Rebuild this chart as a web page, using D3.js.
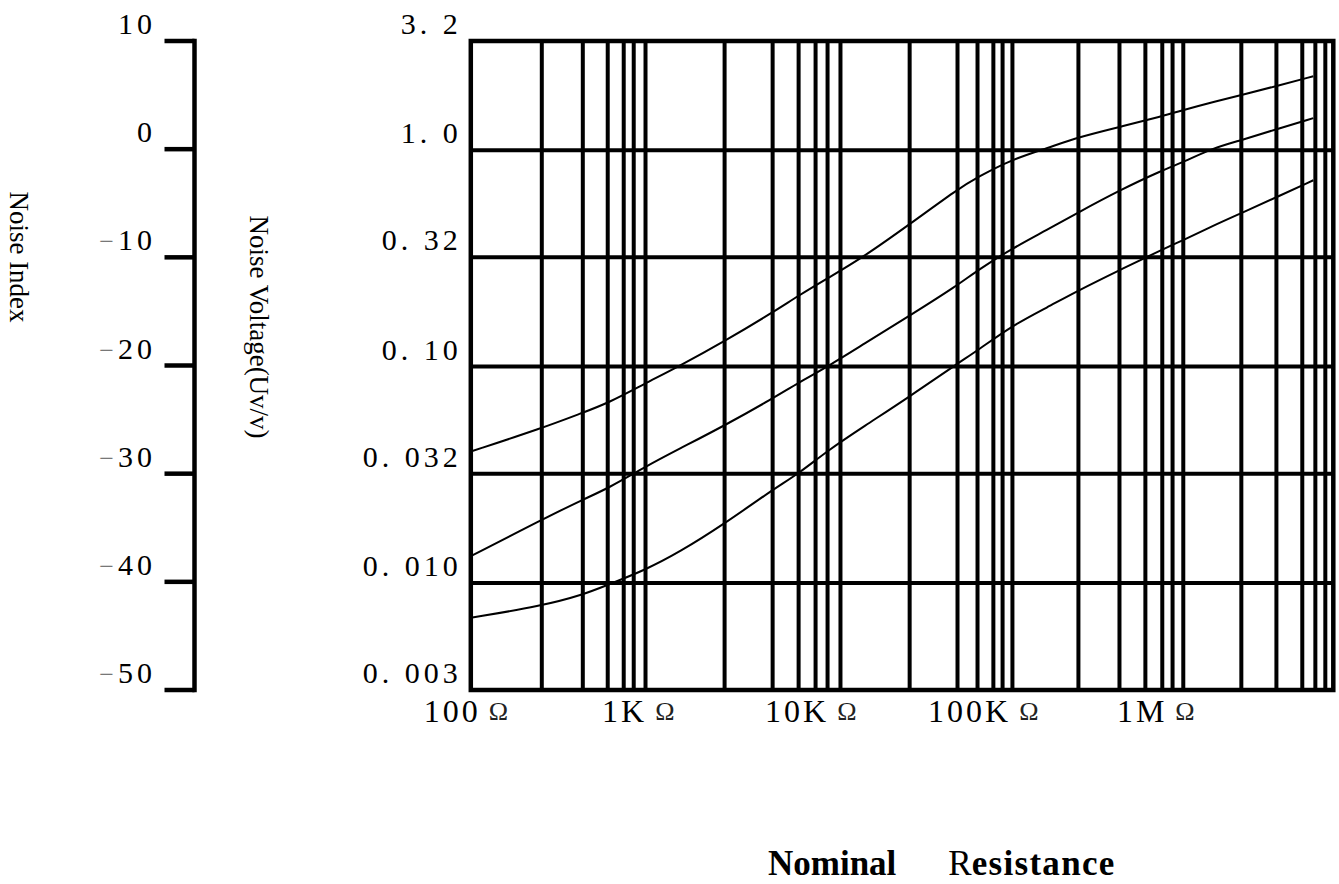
<!DOCTYPE html>
<html>
<head>
<meta charset="utf-8">
<script src="https://cdn.jsdelivr.net/npm/d3@7"></script>
<style>
  body { margin: 0; background: #fff; }
  text { font-family: "Liberation Serif", "Times New Roman", serif; fill: #000; }
</style>
</head>
<body>
<div id="chart"></div>
<script>
// left scale (Noise Index, dB)
const indexTicks = [10, 0, -10, -20, -30, -40, -50];

// right scale (Noise Voltage, uV/V) and its printed labels
const voltTicks = [3.2, 1.0, 0.32, 0.10, 0.032, 0.010, 0.0032];
const voltLabels = ["3. 2", "1. 0", "0. 32", "0. 10", "0. 032", "0. 010", "0. 003"];

// resistance axis labels
const ohmTicks = [100, 1e3, 1e4, 1e5, 1e6];
const ohmLabels = ["100", "1K", "10K", "100K", "1M"];

// vertical grid lines as drawn on the sheet (ohms)
const gridOhms = [258, 446, 622, 770, 880, 1030,
  2960, 5620, 7950, 9970, 11700, 13900,
  35000, 66300, 86600, 107000, 121000, 138000,
  333000, 576000, 814000, 1020000, 1170000, 1350000,
  2930000, 4680000, 6610000, 7870000, 8990000];

// curves: resistance (ohms) and noise voltage (uV/V) for three grades
const resistance = [100, 258, 446, 622, 1030, 1600, 2960, 5620, 7950, 11700, 18900, 35000,
  66300, 86600, 138000, 220000, 333000, 576000, 1020000, 1350000, 2000000, 2930000, 4680000, 7660000];
const curveHigh = [0.0405, 0.0519, 0.0613, 0.0677, 0.0838, 0.100, 0.131, 0.178, 0.213, 0.256, 0.321, 0.455,
  0.660, 0.751, 0.909, 1.023, 1.150, 1.280, 1.439, 1.534, 1.67, 1.80, 1.98, 2.20];
const curveMid = [0.0133, 0.0196, 0.0243, 0.0273, 0.0345, 0.0415, 0.0534, 0.0712, 0.0844, 0.100, 0.127, 0.172,
  0.2375, 0.279, 0.352, 0.429, 0.517, 0.653, 0.809, 0.881, 1.023, 1.113, 1.252, 1.408];
const curveLow = [0.0069, 0.00783, 0.00881, 0.0098, 0.0115, 0.0138, 0.01877, 0.0270, 0.032, 0.0409, 0.0528, 0.0727,
  0.1034, 0.1187, 0.155, 0.188, 0.225, 0.279, 0.348, 0.384, 0.447, 0.512, 0.607, 0.727];

const W = 1339, H = 884;
const plot = {left: 470.8, right: 1333.3, top: 41, bottom: 690};
const indexAxisX = 194.5;

const svg = d3.select("#chart")
  .append("svg")
  .attr("width", W)
  .attr("height", H);

const x = d3.scaleLog().domain([100, 1e7]).range([plot.left, plot.right]);
const y = d3.scaleLog().domain([0.0032, 3.2]).range([plot.bottom, plot.top]);
const yIdx = d3.scaleLinear().domain([-50, 10]).range([plot.bottom, plot.top]);

// ---- Noise Index axis ----
svg.append("line")
  .attr("x1", indexAxisX).attr("x2", indexAxisX)
  .attr("y1", yIdx(10)).attr("y2", yIdx(-50))
  .attr("stroke", "#000").attr("stroke-width", 4.5)
  .attr("stroke-linecap", "square");

svg.selectAll(".idx-tick")
  .data(indexTicks)
  .join("line")
  .attr("class", "idx-tick")
  .attr("x1", indexAxisX - 30).attr("x2", indexAxisX)
  .attr("y1", d => yIdx(d)).attr("y2", d => yIdx(d))
  .attr("stroke", "#000").attr("stroke-width", 4.5);

const idxLabels = svg.selectAll(".idx-label")
  .data(indexTicks)
  .join("text")
  .attr("class", "idx-label")
  .attr("x", 156)
  .attr("y", d => yIdx(d) - 7)
  .attr("text-anchor", "end")
  .style("font-size", "30px")
  .style("letter-spacing", "4px");
idxLabels.filter(d => d < 0).append("tspan")
  .style("fill", "#777")
  .style("font-size", "26px")
  .text("\u2212");
idxLabels.append("tspan").text(d => Math.abs(d));

// ---- plot grid ----
svg.selectAll(".vgrid")
  .data(gridOhms)
  .join("line")
  .attr("class", "vgrid")
  .attr("x1", d => x(d)).attr("x2", d => x(d))
  .attr("y1", plot.top).attr("y2", plot.bottom)
  .attr("stroke", "#000").attr("stroke-width", 4);

svg.selectAll(".hgrid")
  .data(voltTicks)
  .join("line")
  .attr("class", "hgrid")
  .attr("x1", plot.left).attr("x2", plot.right)
  .attr("y1", d => y(d)).attr("y2", d => y(d))
  .attr("stroke", "#000").attr("stroke-width", 4);

svg.append("rect")
  .attr("x", plot.left).attr("y", plot.top)
  .attr("width", plot.right - plot.left)
  .attr("height", plot.bottom - plot.top)
  .attr("fill", "none")
  .attr("stroke", "#000").attr("stroke-width", 4.5);

// ---- Noise Voltage labels ----
svg.selectAll(".volt-label")
  .data(voltTicks)
  .join("text")
  .attr("class", "volt-label")
  .attr("x", plot.left - 9)
  .attr("y", d => y(d) - 7)
  .attr("text-anchor", "end")
  .style("font-size", "30px")
  .style("letter-spacing", "4px")
  .text((d, i) => voltLabels[i]);

// ---- resistance labels ----
const ohmText = svg.selectAll(".ohm-label")
  .data(ohmTicks)
  .join("text")
  .attr("class", "ohm-label")
  .attr("x", d => x(d) - 5)
  .attr("y", plot.bottom + 32)
  .attr("text-anchor", "middle")
  .style("font-size", "32px");
ohmText.append("tspan")
  .style("letter-spacing", "3px")
  .text((d, i) => ohmLabels[i]);
ohmText.append("tspan")
  .attr("dx", 8)
  .attr("dy", -2)
  .style("font-size", "26px")
  .style("fill", "#222")
  .text("\u03A9");

// ---- curves ----
const line = d3.line()
  .x(d => x(d[0]))
  .y(d => y(d[1]))
  .curve(d3.curveBasis);

[curveHigh, curveMid, curveLow].forEach(values => {
  svg.append("path")
    .datum(d3.zip(resistance, values))
    .attr("fill", "none")
    .attr("stroke", "#000")
    .attr("stroke-width", 2)
    .attr("d", line);
});

// ---- axis titles ----
svg.append("text")
  .attr("transform", "translate(10,257) rotate(90)")
  .attr("text-anchor", "middle")
  .style("font-size", "27px")
  .text("Noise Index");

svg.append("text")
  .attr("transform", "translate(250,327) rotate(90)")
  .attr("text-anchor", "middle")
  .style("font-size", "27px")
  .text("Noise Voltage(Uv/v)");

const title = svg.append("text")
  .attr("x", 768)
  .attr("y", 875)
  .style("font-size", "35px");
title.append("tspan").style("font-weight", "bold").text("Nominal");
title.append("tspan").attr("dx", 52).text("R");
title.append("tspan").style("font-weight", "bold").style("letter-spacing", "1.3px").text("esistance");
</script>
</body>
</html>
